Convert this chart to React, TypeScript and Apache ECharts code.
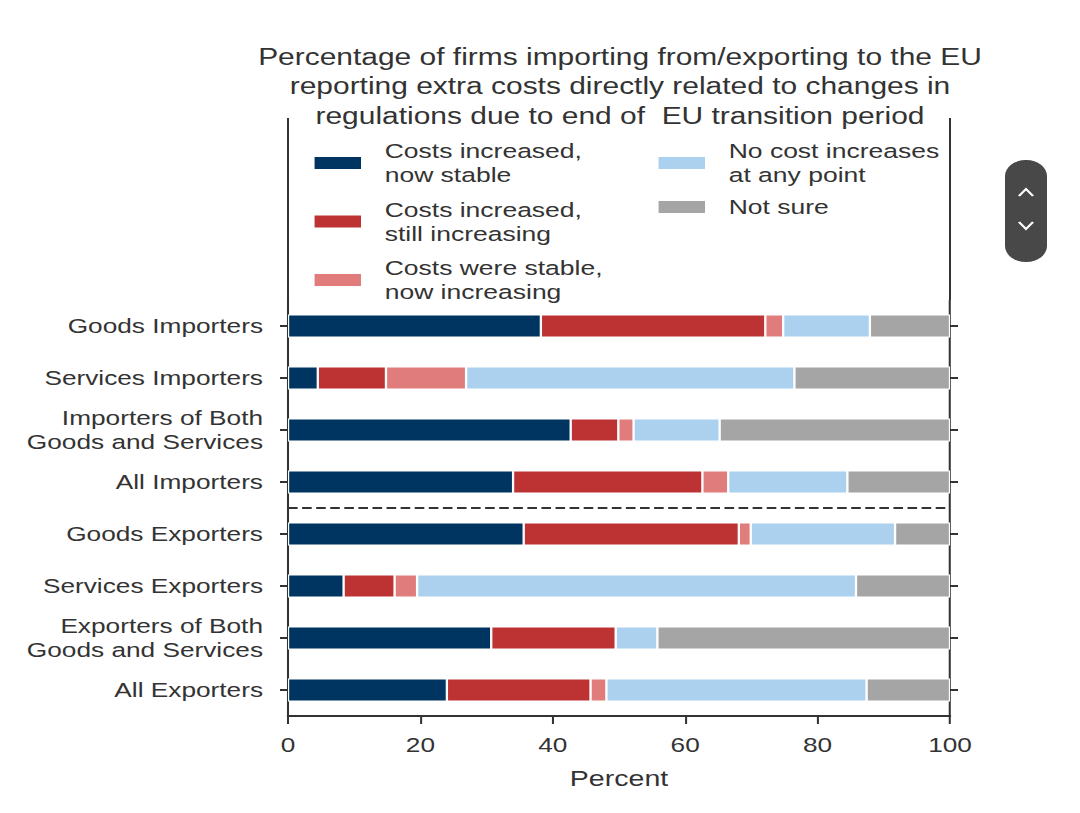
import React, { useEffect, useRef } from "react";
import * as echarts from "echarts";

const categories = [
  "Goods Importers",
  "Services Importers",
  "Importers of Both\nGoods and Services",
  "All Importers",
  "Goods Exporters",
  "Services Exporters",
  "Exporters of Both\nGoods and Services",
  "All Exporters",
];

const seriesNames = [
  "Costs increased,\nnow stable",
  "Costs increased,\nstill increasing",
  "Costs were stable,\nnow increasing",
  "No cost increases\nat any point",
  "Not sure",
];

const stableValues = [38.2, 4.5, 42.7, 34.0, 35.6, 8.4, 30.7, 24.0];
const stillIncreasingValues = [33.9, 10.3, 7.2, 28.6, 32.5, 7.7, 18.8, 21.7];
const nowIncreasingValues = [2.7, 12.1, 2.3, 3.9, 1.8, 3.4, 0, 2.4];
const noIncreaseValues = [13.1, 49.6, 13.0, 18.0, 21.8, 66.3, 6.3, 39.3];
const notSureValues = [12.1, 23.5, 34.8, 15.5, 8.3, 14.2, 44.2, 12.6];

const xTicks = [0, 20, 40, 60, 80, 100];

const colors = ["#003561", "#bd3233", "#e07c7c", "#abd1ee", "#a5a5a5"];

const S = 1.28; // horizontal stretch of the reference
const W = 844;
const H = 813;
const px = (x: number) => x / S;

const FONT = "'Liberation Sans', Arial, Helvetica, sans-serif";
const TXT = "#333333";

export default function App() {
  const ref = useRef<HTMLDivElement>(null);

  useEffect(() => {
    if (!ref.current) return;
    const chart = echarts.init(ref.current, undefined, { renderer: "svg" });
    const values = [
      stableValues,
      stillIncreasingValues,
      nowIncreasingValues,
      noIncreaseValues,
      notSureValues,
    ];
    const gridLeft = px(288);
    const gridRightEdge = px(950);
    const gridTop = 300;
    const gridBottomY = 716;

    const legendText = {
      fontFamily: FONT,
      fontSize: 20.7,
      lineHeight: 24,
      color: TXT,
      padding: [0, 0, 0, 12.5],
    };

    chart.setOption({
      animation: false,
      backgroundColor: "#ffffff",
      title: {
        text:
          "Percentage of firms importing from/exporting to the EU\nreporting extra costs directly related to changes in\nregulations due to end of  EU transition period",
        left: px(620),
        top: 42,
        textAlign: "center",
        padding: 0,
        textStyle: {
          fontFamily: FONT,
          fontSize: 23.4,
          lineHeight: 29.5,
          fontWeight: "normal",
          color: TXT,
        },
      },
      legend: [
        {
          data: seriesNames.slice(0, 3),
          orient: "vertical",
          left: px(312),
          top: 139,
          padding: 0,
          itemWidth: px(49),
          itemHeight: 14,
          itemGap: 10.5,
          icon: "rect",
          selectedMode: false,
          textStyle: legendText,
        },
        {
          data: seriesNames.slice(3),
          orient: "vertical",
          left: px(656),
          top: 139,
          padding: 0,
          itemWidth: px(49),
          itemHeight: 14,
          itemGap: 8,
          icon: "rect",
          selectedMode: false,
          textStyle: legendText,
        },
      ],
      grid: {
        left: gridLeft,
        right: W - gridRightEdge,
        top: gridTop,
        bottom: H - gridBottomY,
        containLabel: false,
      },
      xAxis: {
        type: "value",
        min: xTicks[0],
        max: xTicks[xTicks.length - 1],
        interval: 20,
        splitLine: { show: false },
        axisLine: { show: true, lineStyle: { color: TXT, width: 2 } },
        axisTick: {
          show: true,
          inside: false,
          length: 8,
          lineStyle: { color: TXT, width: 1.6 },
        },
        axisLabel: {
          margin: 19,
          fontFamily: FONT,
          fontSize: 20.5,
          color: TXT,
        },
        name: "Percent",
        nameLocation: "middle",
        nameGap: 51,
        nameTextStyle: { fontFamily: FONT, fontSize: 22.3, color: TXT },
      },
      yAxis: [
        {
          type: "category",
          data: categories,
          inverse: true,
          position: "left",
          axisLine: { show: true, lineStyle: { color: TXT, width: 1.6 } },
          axisTick: {
            show: true,
            alignWithLabel: true,
            length: px(8),
            lineStyle: { color: TXT, width: 2 },
          },
          axisLabel: {
            margin: px(25),
            fontFamily: FONT,
            fontSize: 20.5,
            lineHeight: 24,
            color: TXT,
            align: "right",
          },
          splitLine: { show: false },
        },
        {
          type: "category",
          data: categories,
          inverse: true,
          position: "right",
          axisLine: { show: true, lineStyle: { color: TXT, width: 1.6 } },
          axisTick: {
            show: true,
            alignWithLabel: true,
            length: px(8),
            lineStyle: { color: TXT, width: 2 },
          },
          axisLabel: { show: false },
          splitLine: { show: false },
        },
      ],
      series: seriesNames.map((name, i) => ({
        name,
        type: "bar",
        stack: "total",
        yAxisIndex: 0,
        barWidth: 23,
        data: values[i],
        itemStyle: {
          color: colors[i],
          borderColor: "#ffffff",
          borderWidth: 0.9,
        },
        emphasis: { disabled: true },
      })),
      graphic: [
        {
          type: "line",
          shape: { x1: gridLeft, y1: 118, x2: gridLeft, y2: gridTop },
          style: { stroke: TXT, lineWidth: 1.6 },
        },
        {
          type: "line",
          shape: { x1: gridRightEdge, y1: 118, x2: gridRightEdge, y2: gridTop },
          style: { stroke: TXT, lineWidth: 1.6 },
        },
        {
          type: "line",
          shape: { x1: gridLeft, y1: 508, x2: gridRightEdge, y2: 508 },
          style: { stroke: TXT, lineWidth: 2, lineDash: [7.5, 3.5] },
        },
        {
          type: "rect",
          shape: { x: px(1005), y: 160, width: px(42), height: 102, r: 16 },
          style: { fill: "#484848" },
        },
        {
          type: "polyline",
          shape: {
            points: [
              [px(1019), 196],
              [px(1026), 189],
              [px(1033), 196],
            ],
          },
          style: { stroke: "#ffffff", lineWidth: 2, fill: null },
        },
        {
          type: "polyline",
          shape: {
            points: [
              [px(1019), 222],
              [px(1026), 229],
              [px(1033), 222],
            ],
          },
          style: { stroke: "#ffffff", lineWidth: 2, fill: null },
        },
      ],
    });
    return () => chart.dispose();
  }, []);

  return (
    <div
      ref={ref}
      style={{
        position: "absolute",
        left: 0,
        top: 0,
        width: W,
        height: H,
        transform: `scaleX(${S})`,
        transformOrigin: "0 0",
        background: "#ffffff",
      }}
    />
  );
}
